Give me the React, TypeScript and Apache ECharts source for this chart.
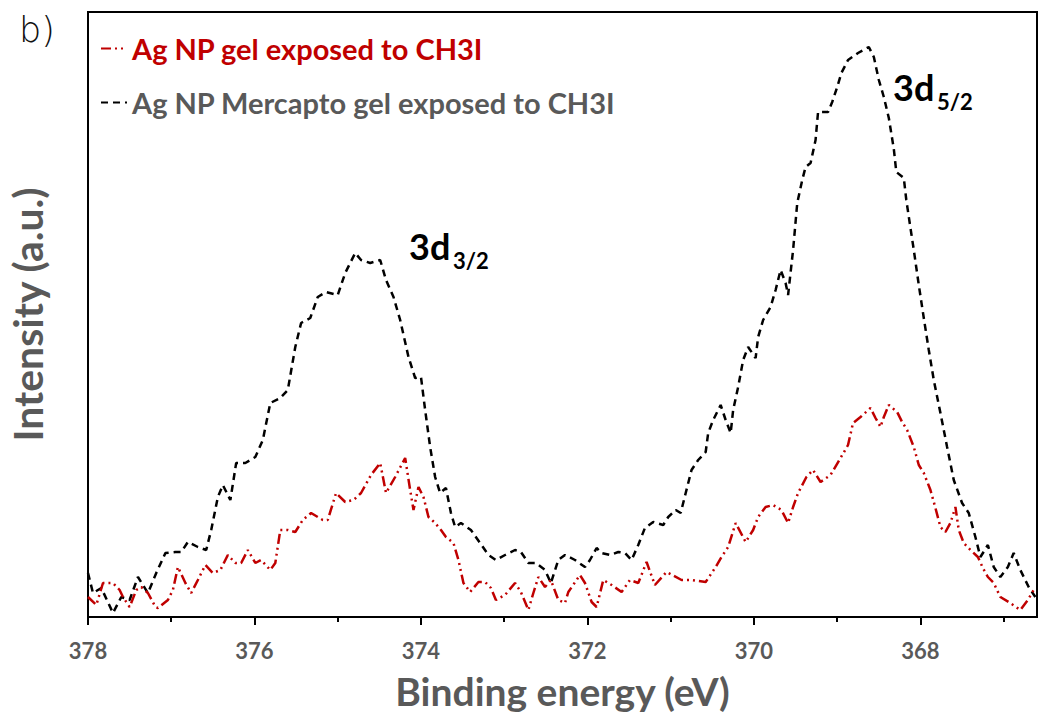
import React, { useEffect, useRef } from "react";
import * as echarts from "echarts";

// Ag 3d XPS region, binding energy in eV (x axis reversed, high BE on the left)
const mercaptoEnergy = [
  378.0, 377.94, 377.84, 377.7, 377.6, 377.5, 377.4, 377.28, 377.18, 377.07,
  376.95, 376.88, 376.8, 376.68, 376.58, 376.52, 376.44, 376.38, 376.29, 376.22,
  376.11, 375.99, 375.9, 375.81, 375.69, 375.6, 375.51, 375.44, 375.33, 375.24,
  375.14, 375.0, 374.91, 374.79, 374.72, 374.61, 374.49, 374.42, 374.33, 374.25,
  374.15, 374.07, 374.0, 373.95, 373.89, 373.83, 373.77, 373.7, 373.64, 373.59,
  373.52, 373.4, 373.29, 373.19, 373.1, 372.99, 372.87, 372.8, 372.71, 372.62,
  372.51, 372.44, 372.35, 372.27, 372.15, 372.03, 371.97, 371.89, 371.83, 371.73,
  371.63, 371.55, 371.47, 371.39, 371.31, 371.21, 371.09, 371.03, 370.94, 370.88,
  370.82, 370.75, 370.67, 370.58, 370.55, 370.49, 370.4, 370.34, 370.28, 370.25,
  370.19, 370.13, 370.07, 369.98, 369.95, 369.89, 369.8, 369.74, 369.68, 369.62,
  369.59, 369.53, 369.48, 369.42, 369.38, 369.32, 369.26, 369.23, 369.11, 369.06,
  369.0, 368.95, 368.87, 368.75, 368.62, 368.56, 368.5, 368.44, 368.38, 368.32,
  368.29, 368.2, 368.17, 368.12, 368.08, 368.02, 367.96, 367.9, 367.84, 367.76,
  367.68, 367.6, 367.5, 367.42, 367.34, 367.28, 367.19, 367.12, 367.04, 366.95,
  366.88, 366.8, 366.7, 366.62,
];
const mercaptoIntensity = [
  44, 24, 29, 4, 20, 17, 40, 24, 44, 64,
  65, 65, 75, 70, 67, 87, 120, 132, 117, 154,
  154, 160, 177, 214, 219, 227, 270, 294, 299, 320,
  325, 322, 344, 364, 357, 354, 357, 337, 320, 297,
  260, 239, 240, 207, 170, 140, 124, 129, 104, 90,
  94, 87, 74, 62, 57, 62, 67, 65, 54, 54,
  47, 34, 57, 62, 57, 50, 57, 69, 64, 62,
  65, 64, 57, 72, 89, 95, 92, 100, 107, 104,
  124, 147, 157, 165, 184, 197, 212, 197, 184, 207,
  230, 257, 270, 259, 280, 297, 310, 327, 347, 334,
  322, 367, 414, 437, 450, 454, 477, 505, 505, 515,
  530, 544, 557, 564, 570, 560, 537, 520, 499, 468,
  445, 439, 417, 389, 367, 332, 299, 267, 237, 204,
  170, 137, 114, 104, 80, 60, 72, 50, 40, 50,
  64, 47, 30, 20,
];

const gelEnergy = [
  378.0, 377.9, 377.82, 377.7, 377.62, 377.58, 377.5, 377.42, 377.36, 377.28,
  377.19, 377.16, 377.04, 376.98, 376.92, 376.83, 376.76, 376.68, 376.59, 376.5,
  376.41, 376.32, 376.23, 376.16, 376.08, 375.99, 375.92, 375.81, 375.75, 375.69,
  375.6, 375.51, 375.42, 375.32, 375.18, 375.12, 375.02, 374.91, 374.81, 374.72,
  374.6, 374.49, 374.42, 374.31, 374.19, 374.13, 374.09, 374.03, 373.97, 373.91,
  373.83, 373.76, 373.7, 373.61, 373.55, 373.49, 373.41, 373.31, 373.23, 373.16,
  373.1, 372.99, 372.87, 372.8, 372.71, 372.65, 372.59, 372.51, 372.44, 372.35,
  372.27, 372.23, 372.09, 372.03, 371.95, 371.89, 371.81, 371.71, 371.59, 371.49,
  371.39, 371.29, 371.19, 371.05, 370.87, 370.75, 370.58, 370.46, 370.39, 370.31,
  370.22, 370.1, 370.01, 369.95, 369.86, 369.77, 369.67, 369.59, 369.53, 369.47,
  369.37, 369.29, 369.2, 369.08, 368.96, 368.87, 368.81, 368.72, 368.6, 368.54,
  368.48, 368.44, 368.38, 368.28, 368.22, 368.16, 368.08, 368.02, 367.96, 367.88,
  367.82, 367.76, 367.7, 367.64, 367.58, 367.54, 367.48, 367.4, 367.31, 367.25,
  367.19, 367.12, 367.04, 366.94, 366.8, 366.71, 366.64,
];
const gelIntensity = [
  20, 12, 34, 34, 27, 20, 10, 27, 30, 24,
  10, 9, 17, 27, 50, 34, 24, 37, 52, 44,
  47, 62, 54, 54, 67, 54, 57, 47, 54, 87,
  87, 85, 97, 104, 97, 97, 124, 115, 117, 124,
  142, 154, 124, 140, 159, 127, 107, 130, 120, 100,
  94, 87, 80, 74, 57, 34, 25, 35, 35, 29,
  17, 22, 34, 25, 7, 24, 40, 30, 37, 17,
  14, 25, 42, 34, 15, 10, 37, 32, 25, 37,
  34, 55, 32, 45, 37, 37, 35, 50, 60, 70,
  94, 75, 87, 100, 110, 112, 107, 94, 110, 124,
  140, 147, 135, 142, 159, 172, 194, 200, 209, 199,
  190, 200, 212, 205, 195, 187, 170, 152, 144, 127,
  109, 90, 85, 94, 110, 87, 74, 67, 60, 49,
  40, 34, 20, 15, 7, 17, 27,
];

const seriesNames = ["Ag NP gel exposed to CH3I", "Ag NP Mercapto gel exposed to CH3I"];
const majorTicks = [368, 370, 372, 374, 376, 378];
const minorTicks = [367, 369, 371, 373, 375, 377];

const FONT = "Lato";
const GREY = "#595959";
const RED = "#c00000";

const pairs = (xs: number[], ys: number[]) => xs.map((x, i) => [x, ys[i]]);

export default function App() {
  const ref = useRef<HTMLDivElement>(null);

  useEffect(() => {
    if (!ref.current) return;
    const chart = echarts.init(ref.current, undefined, { renderer: "svg" });
    chart.setOption({
      animation: false,
      backgroundColor: "#fff",
      grid: {
        left: 88,
        right: 1,
        top: 12,
        bottom: 99,
        outerBoundsMode: "none",
        containLabel: false,
        show: true,
        borderColor: "#000",
        borderWidth: 2,
      },
      legend: {
        orient: "vertical",
        left: 95,
        top: 29,
        itemWidth: 26,
        itemHeight: 14,
        itemGap: 25,
        itemStyle: { opacity: 0 },
        textStyle: { fontFamily: FONT, fontWeight: "bold", fontSize: 29 },
        data: [
          { name: seriesNames[0], textStyle: { color: RED } },
          { name: seriesNames[1], textStyle: { color: GREY } },
        ],
      },
      xAxis: [
        {
          type: "value",
          inverse: true,
          min: 366.6,
          max: 378,
          name: "Binding energy (eV)",
          nameLocation: "middle",
          nameGap: 54,
          nameTextStyle: { fontFamily: FONT, fontWeight: "bold", fontSize: 39, color: GREY },
          axisLine: { show: true, onZero: false, lineStyle: { color: "#000", width: 2 } },
          axisTick: { show: true, customValues: majorTicks, length: 8, lineStyle: { color: "#000", width: 2 } },
          axisLabel: {
            customValues: majorTicks,
            margin: 22,
            fontFamily: FONT,
            fontWeight: "bold",
            fontSize: 22,
            color: GREY,
          },
          splitLine: { show: false },
        },
        {
          type: "value",
          inverse: true,
          position: "bottom",
          min: 366.6,
          max: 378,
          axisLine: { show: false },
          axisTick: { show: true, customValues: minorTicks, length: 5, lineStyle: { color: "#000", width: 2 } },
          axisLabel: { show: false },
          splitLine: { show: false },
        },
      ],
      yAxis: {
        type: "value",
        min: 0,
        max: 605,
        name: "Intensity (a.u.)",
        nameLocation: "middle",
        nameGap: 40,
        nameTextStyle: { fontFamily: FONT, fontWeight: "bold", fontSize: 41, color: GREY },
        axisLine: { show: true, lineStyle: { color: "#000", width: 2 } },
        axisTick: { show: false },
        axisLabel: { show: false },
        splitLine: { show: false },
      },
      graphic: [
        {
          type: "text",
          left: 19,
          top: 12,
          style: { text: "b)", fontFamily: "DejaVu Sans", fontWeight: 200, fontSize: 35, fill: "#111" },
        },
        {
          type: "text",
          x: 409,
          y: 228,
          style: { text: "3d", fontFamily: FONT, fontWeight: "bold", fontSize: 36, fill: "#000" },
        },
        {
          type: "text",
          x: 453,
          y: 249,
          style: { text: "3/2", fontFamily: FONT, fontWeight: "bold", fontSize: 22, fill: "#000" },
        },
        {
          type: "text",
          x: 893,
          y: 69,
          style: { text: "3d", fontFamily: FONT, fontWeight: "bold", fontSize: 36, fill: "#000" },
        },
        {
          type: "text",
          x: 937,
          y: 90,
          style: { text: "5/2", fontFamily: FONT, fontWeight: "bold", fontSize: 22, fill: "#000" },
        },
      ],
      series: [
        {
          name: seriesNames[0],
          type: "line",
          xAxisIndex: 0,
          data: pairs(gelEnergy, gelIntensity),
          symbol: "none",
          itemStyle: { color: RED },
          lineStyle: { color: RED, width: 2.5, type: [10, 4, 2, 4, 2, 4] },
          z: 3,
        },
        {
          name: seriesNames[1],
          type: "line",
          xAxisIndex: 0,
          data: pairs(mercaptoEnergy, mercaptoIntensity),
          symbol: "none",
          itemStyle: { color: "#000" },
          lineStyle: { color: "#000", width: 2.5, type: [7, 5] },
          z: 2,
        },
      ],
    });
    return () => chart.dispose();
  }, []);

  return (
    <div
      ref={ref}
      style={{ position: "fixed", left: 0, top: 0, width: 1038, height: 716, background: "#fff" }}
    />
  );
}
